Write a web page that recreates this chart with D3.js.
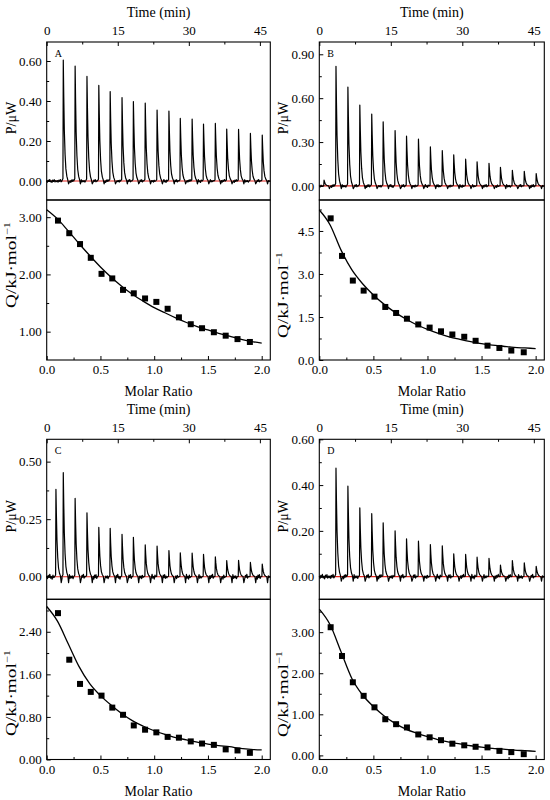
<!DOCTYPE html>
<html>
<head>
<meta charset="utf-8">
<script src="https://cdn.jsdelivr.net/npm/d3@7"></script>
<style>
  body { margin: 0; background: #fff; }
  svg { display: block; }
  svg text { font-family: "Liberation Serif", "Times New Roman", Times, serif; fill: #000; }
</style>
</head>
<body>
<svg id="chart" width="550" height="800" font-family="Liberation Serif, Times New Roman, serif"></svg>
<script>
/**
 * Injection times (min) shared by all four runs
 */
const injectionTimes = [3.5, 6.0, 8.5, 11.0, 13.4, 15.9, 18.3, 20.8, 23.3, 25.8, 28.2, 30.7, 33.1, 35.6, 38.0, 40.5, 43.0, 45.5];

/**
 * Peak heights of the raw thermograms (P / uW)
 */
const peakHeightsA = [0.605, 0.575, 0.523, 0.478, 0.447, 0.417, 0.397, 0.39, 0.355, 0.35, 0.313, 0.31, 0.285, 0.288, 0.26, 0.258, 0.238, 0.23];
const peakHeightsB = [0.818, 0.676, 0.553, 0.491, 0.439, 0.379, 0.34, 0.32, 0.267, 0.242, 0.213, 0.183, 0.165, 0.155, 0.128, 0.107, 0.10, 0.085];
const peakHeightsC = [0.452, 0.34, 0.278, 0.214, 0.21, 0.184, 0.171, 0.138, 0.133, 0.114, 0.104, 0.103, 0.097, 0.086, 0.070, 0.071, 0.062, 0.055];
const peakHeightsD = [0.474, 0.395, 0.30, 0.275, 0.235, 0.20, 0.165, 0.155, 0.14, 0.135, 0.10, 0.097, 0.085, 0.08, 0.05, 0.07, 0.06, 0.045];
// small pre-injections [time, height]
const extraPeaksB = [[1.0, 0.04]];
const extraPeaksC = [[1.95, 0.38]];

/**
 * Integrated heats (Q / kJ mol-1) vs molar ratio
 */
const molarRatio = [0.105, 0.21, 0.31, 0.41, 0.51, 0.61, 0.71, 0.81, 0.915, 1.02, 1.125, 1.23, 1.34, 1.445, 1.555, 1.665, 1.775, 1.89];
const heatA = [2.94, 2.72, 2.53, 2.29, 2.01, 1.93, 1.73, 1.67, 1.58, 1.52, 1.40, 1.25, 1.13, 1.06, 0.99, 0.93, 0.87, 0.82];
const heatB = [4.94, 3.63, 2.77, 2.42, 2.21, 1.85, 1.64, 1.44, 1.24, 1.13, 1.00, 0.89, 0.81, 0.67, 0.50, 0.42, 0.33, 0.27];
const heatC = [2.75, 1.875, 1.42, 1.27, 1.20, 0.975, 0.84, 0.64, 0.56, 0.51, 0.425, 0.41, 0.34, 0.30, 0.275, 0.19, 0.17, 0.125];
const heatD = [3.12, 2.42, 1.78, 1.45, 1.17, 0.88, 0.76, 0.68, 0.51, 0.44, 0.37, 0.285, 0.245, 0.21, 0.195, 0.11, 0.08, 0.03];

/**
 * Fitted curves, read at these molar ratios
 */
const fitRatio = [0, 0.1, 0.2, 0.3, 0.4, 0.5, 0.6, 0.7, 0.8, 0.9, 1.0, 1.1, 1.2, 1.3, 1.4, 1.5, 1.6, 1.7, 1.8, 1.9, 2.0];
const fitA = [3.13, 2.97, 2.76, 2.54, 2.33, 2.13, 1.95, 1.79, 1.65, 1.53, 1.42, 1.33, 1.24, 1.16, 1.09, 1.03, 0.97, 0.92, 0.87, 0.83, 0.80];
const fitB = [5.23, 4.71, 3.84, 3.15, 2.66, 2.27, 1.94, 1.66, 1.43, 1.23, 1.07, 0.93, 0.81, 0.72, 0.64, 0.57, 0.52, 0.48, 0.44, 0.42, 0.40];
const fitC = [2.875, 2.60, 2.175, 1.75, 1.425, 1.20, 1.02, 0.86, 0.725, 0.625, 0.54, 0.47, 0.41, 0.37, 0.325, 0.29, 0.26, 0.24, 0.21, 0.19, 0.18];
const fitD = [3.56, 3.18, 2.53, 1.88, 1.47, 1.19, 0.96, 0.78, 0.64, 0.54, 0.455, 0.38, 0.325, 0.28, 0.235, 0.20, 0.17, 0.155, 0.13, 0.115, 0.10];

/**
 * Tick values
 */
const timeTicks = [0, 15, 30, 45];
const ratioTicks = [0, 0.5, 1.0, 1.5, 2.0];
const powerTicksA = [0, 0.2, 0.4, 0.6];
const powerTicksB = [0, 0.3, 0.6, 0.9];
const powerTicksC = [0, 0.25, 0.5];
const powerTicksD = [0, 0.2, 0.4, 0.6];
const heatTicksA = [1, 2, 3];
const heatTicksB = [0, 1.5, 3.0, 4.5];
const heatTicksC = [0, 0.8, 1.6, 2.4];
const heatTicksD = [0, 1, 2, 3];

// shape of one injection peak: [minutes from injection, fraction of height]
const peakShape = [[-0.3, 0], [-0.07, 0.02], [0, 1], [0.1, 0.7], [0.22, 0.42], [0.38, 0.22], [0.55, 0.1], [0.75, 0.04], [0.95, 0.01]];
// hand-made baseline wobble, scaled per panel
const noisePattern = [0.3, -0.7, 0.5, -0.2, 0.9, -0.5, 0.1, -0.9, 0.6, -0.3, 0.8, -0.6, 0.2, -0.4];

const timeMax = 47.2;
const ratioMax = 2.08;
const serif = "Liberation Serif, Times New Roman, serif";

const panels = [
  { name: "A", left: 46.7, right: 270.3, top: 42, split: 200, bottom: 360,
    powerDomain: [-0.095, 0.695], powerTicks: powerTicksA, powerFmt: ".2f",
    heatDomain: [0.505, 3.30], heatTicks: heatTicksA, heatFmt: ".2f",
    peaks: peakHeightsA, extra: [], heat: heatA, fit: fitA, noise: 0.008, dip: 0.014, qLabelY: 265 },
  { name: "B", left: 319.3, right: 544.3, top: 42, split: 200, bottom: 360,
    powerDomain: [-0.096, 0.984], powerTicks: powerTicksB, powerFmt: ".2f",
    heatDomain: [0, 5.58], heatTicks: heatTicksB, heatFmt: ".1f",
    peaks: peakHeightsB, extra: extraPeaksB, heat: heatB, fit: fitB, noise: 0.011, dip: 0.018, qLabelY: 295 },
  { name: "C", left: 46.7, right: 270.3, top: 439.3, split: 599.3, bottom: 759.5,
    powerDomain: [-0.098, 0.597], powerTicks: powerTicksC, powerFmt: ".2f",
    heatDomain: [0, 3.01], heatTicks: heatTicksC, heatFmt: ".2f",
    peaks: peakHeightsC, extra: extraPeaksC, heat: heatC, fit: fitC, noise: 0.012, dip: 0.026, qLabelY: 693 },
  { name: "D", left: 319.3, right: 544.3, top: 439.3, split: 599.3, bottom: 759.5,
    powerDomain: [-0.099, 0.60], powerTicks: powerTicksD, powerFmt: ".2f",
    heatDomain: [-0.10, 3.80], heatTicks: heatTicksD, heatFmt: ".2f",
    peaks: peakHeightsD, extra: [], heat: heatD, fit: fitD, noise: 0.011, dip: 0.02, qLabelY: 694 }
];

const svg = d3.select("#chart");

// minor ticks sit halfway between the majors
function minorTicks(major, domain) {
  const step = major[1] - major[0];
  const lo = Math.min(domain[0], domain[1]), hi = Math.max(domain[0], domain[1]);
  const out = [];
  for (let v = major[0] - step / 2; v <= major[major.length - 1] + step / 2 + 1e-9; v += step) {
    if (v >= lo && v <= hi) out.push(v);
  }
  return out;
}

// thermogram trace from the peak list
function buildTrace(peaks, extra, noiseAmp, dipAmp) {
  const events = extra.map(e => ({ t: e[0], h: e[1] }))
    .concat(injectionTimes.map((t, i) => ({ t: t, h: peaks[i] })))
    .sort((a, b) => a.t - b.t);
  const pts = [];
  let cursor = 0;
  events.forEach((ev, i) => {
    const start = ev.t + peakShape[0][0];
    const gap = start - cursor;
    const n = Math.max(1, Math.round(gap / 0.16));
    for (let k = 0; k < n; k++) {
      pts.push([cursor + gap * k / n, noiseAmp * noisePattern[(i * 5 + k) % noisePattern.length]]);
    }
    peakShape.forEach(s => pts.push([ev.t + s[0], s[1] * ev.h]));
    pts.push([ev.t + 1.12, -dipAmp]);
    cursor = ev.t + 1.3;
  });
  const tail = timeMax - cursor;
  const n = Math.max(1, Math.round(tail / 0.16));
  for (let k = 0; k <= n; k++) {
    pts.push([cursor + tail * k / n, noiseAmp * noisePattern[(k * 3) % noisePattern.length]]);
  }
  return pts;
}

function styleAxis(sel, size) {
  sel.select(".domain").remove();
  sel.attr("font-family", serif).attr("font-size", size);
  sel.selectAll("text").attr("font-size", size).attr("font-family", serif);
  sel.selectAll("line").attr("stroke", "#000");
}

function drawPanel(p) {
  const g = svg.append("g");

  const timeScale = d3.scaleLinear().domain([0, timeMax]).range([p.left, p.right]);
  const powerScale = d3.scaleLinear().domain(p.powerDomain).range([p.split, p.top]);
  const ratioScale = d3.scaleLinear().domain([0, ratioMax]).range([p.left, p.right]);
  const heatScale = d3.scaleLinear().domain(p.heatDomain).range([p.bottom, p.split]);

  // raw heat flow
  const powerLine = d3.line().x(d => timeScale(d[0])).y(d => powerScale(d[1]));
  g.append("path")
    .datum([[0, 0], [timeMax, 0]])
    .attr("d", powerLine)
    .attr("fill", "none")
    .attr("stroke", "#e0231c")
    .attr("stroke-width", 1.2);
  g.append("path")
    .datum(buildTrace(p.peaks, p.extra, p.noise, p.dip))
    .attr("d", powerLine)
    .attr("fill", "none")
    .attr("stroke", "#000")
    .attr("stroke-width", 1.2)
    .attr("stroke-linejoin", "round");

  // fitted isotherm and integrated heats
  const fitLine = d3.line().curve(d3.curveMonotoneX).x(d => ratioScale(d[0])).y(d => heatScale(d[1]));
  g.append("path")
    .datum(d3.zip(fitRatio, p.fit))
    .attr("d", fitLine)
    .attr("fill", "none")
    .attr("stroke", "#000")
    .attr("stroke-width", 1.3);
  g.selectAll("rect.pt")
    .data(d3.zip(molarRatio, p.heat))
    .join("rect")
    .attr("class", "pt")
    .attr("x", d => ratioScale(d[0]) - 3)
    .attr("y", d => heatScale(d[1]) - 3)
    .attr("width", 6)
    .attr("height", 6)
    .attr("fill", "#000");

  // frames
  g.append("rect")
    .attr("x", p.left).attr("y", p.top)
    .attr("width", p.right - p.left).attr("height", p.split - p.top)
    .attr("fill", "none").attr("stroke", "#000").attr("stroke-width", 1.1);
  g.append("rect")
    .attr("x", p.left).attr("y", p.split)
    .attr("width", p.right - p.left).attr("height", p.bottom - p.split)
    .attr("fill", "none").attr("stroke", "#000").attr("stroke-width", 1.1);

  // top time axis
  g.append("g").attr("transform", `translate(0,${p.top})`)
    .call(d3.axisTop(timeScale).tickValues(timeTicks).tickSizeInner(-4).tickSizeOuter(0).tickPadding(7).tickFormat(d3.format("d")))
    .call(s => styleAxis(s, 13));
  g.append("g").attr("transform", `translate(0,${p.top})`)
    .call(d3.axisTop(timeScale).tickValues(minorTicks(timeTicks, [0, timeMax])).tickSize(-2.5).tickFormat(""))
    .call(s => styleAxis(s, 13));

  // power axis
  g.append("g").attr("transform", `translate(${p.left},0)`)
    .call(d3.axisLeft(powerScale).tickValues(p.powerTicks).tickSizeInner(-4).tickSizeOuter(0).tickPadding(5).tickFormat(d3.format(p.powerFmt)))
    .call(s => styleAxis(s, 13));
  g.append("g").attr("transform", `translate(${p.left},0)`)
    .call(d3.axisLeft(powerScale).tickValues(minorTicks(p.powerTicks, p.powerDomain)).tickSize(-2.5).tickFormat(""))
    .call(s => styleAxis(s, 13));

  // heat axis
  g.append("g").attr("transform", `translate(${p.left},0)`)
    .call(d3.axisLeft(heatScale).tickValues(p.heatTicks).tickSizeInner(-4).tickSizeOuter(0).tickPadding(5).tickFormat(d3.format(p.heatFmt)))
    .call(s => styleAxis(s, 13));
  g.append("g").attr("transform", `translate(${p.left},0)`)
    .call(d3.axisLeft(heatScale).tickValues(minorTicks(p.heatTicks, p.heatDomain)).tickSize(-2.5).tickFormat(""))
    .call(s => styleAxis(s, 13));

  // molar ratio axis
  g.append("g").attr("transform", `translate(0,${p.bottom})`)
    .call(d3.axisBottom(ratioScale).tickValues(ratioTicks).tickSizeInner(-4).tickSizeOuter(0).tickPadding(5).tickFormat(d3.format(".1f")))
    .call(s => styleAxis(s, 13));
  g.append("g").attr("transform", `translate(0,${p.bottom})`)
    .call(d3.axisBottom(ratioScale).tickValues(minorTicks(ratioTicks, [0, ratioMax])).tickSize(-2.5).tickFormat(""))
    .call(s => styleAxis(s, 13));

  // titles
  const mid = (p.left + p.right) / 2;
  g.append("text")
    .attr("x", mid).attr("y", p.top - 25)
    .attr("text-anchor", "middle").attr("font-size", 14).attr("font-family", serif)
    .text("Time (min)");
  g.append("text")
    .attr("x", mid).attr("y", p.bottom + 36)
    .attr("text-anchor", "middle").attr("font-size", 14).attr("font-family", serif)
    .text("Molar Ratio");
  g.append("text")
    .attr("transform", `translate(${p.left - 31},${(p.top + p.split) / 2 - 3}) rotate(-90)`)
    .attr("text-anchor", "middle").attr("font-size", 14).attr("font-family", serif)
    .text("P/μW");
  const q = g.append("text")
    .attr("transform", `translate(${p.left - 31},${p.qLabelY}) rotate(-90)`)
    .attr("text-anchor", "middle").attr("font-size", 14).attr("font-family", serif)
    .attr("textLength", 86).attr("lengthAdjust", "spacingAndGlyphs");
  q.append("tspan").text("Q/kJ·mol");
  q.append("tspan").attr("font-size", 9).attr("dy", -6).text("−1");

  // panel letter
  g.append("text")
    .attr("x", p.left + 8).attr("y", p.top + 15)
    .attr("font-size", 10).attr("font-family", serif)
    .text(p.name);
}

panels.forEach(drawPanel);
</script>
</body>
</html>
